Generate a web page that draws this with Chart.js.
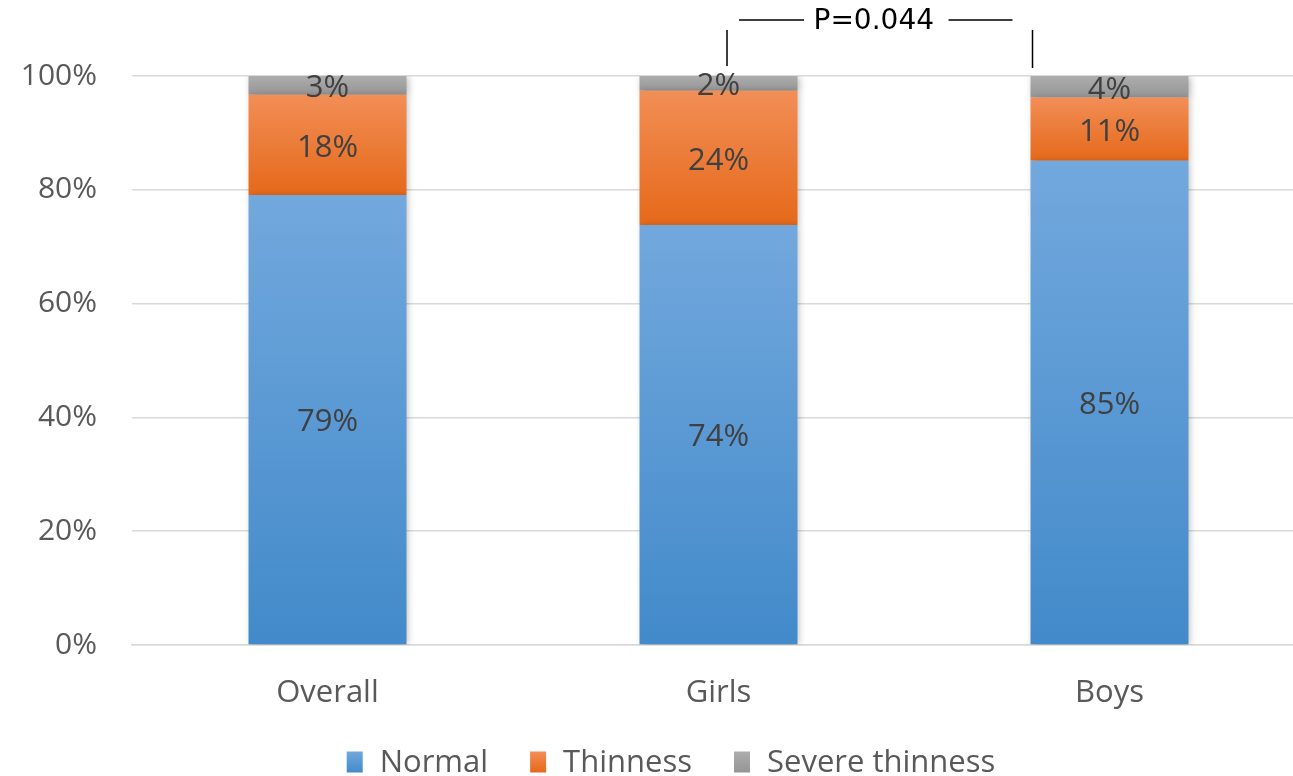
<!DOCTYPE html>
<html>
<head>
<meta charset="utf-8">
<script src="https://cdn.jsdelivr.net/npm/chart.js@4.4.1/dist/chart.umd.min.js"></script>
<style>
html,body{margin:0;padding:0;background:#fff;overflow:hidden;width:1293px;height:776px;}
#wrap{width:1310px;height:776px;}
</style>
</head>
<body>
<div id="wrap"><canvas id="c" width="1310" height="776"></canvas></div>
<script>
const categories = ['Overall', 'Girls', 'Boys'];
const normalValues = [79.1, 73.8, 85.1];
const thinnessValues = [17.6, 23.6, 11.1];
const severeValues = [3.3, 2.6, 3.8];
const normalLabels = ['79%', '74%', '85%'];
const thinnessLabels = ['18%', '24%', '11%'];
const severeLabels = ['3%', '2%', '4%'];
const seriesNames = ['Normal', 'Thinness', 'Severe thinness'];
const yTicks = [0, 20, 40, 60, 80, 100];
const pValueText = 'P=0.044';

const FONT = '"Open Sans", "Noto Sans", sans-serif';
const gradStops = [
  ['rgb(114,168,221)', 'rgb(66,138,202)'],
  ['rgb(242,142,86)', 'rgb(229,105,26)'],
  ['rgb(173,173,173)', 'rgb(149,149,149)']
];
const flatColors = ['rgb(91,155,213)', 'rgb(237,125,49)', 'rgb(165,165,165)'];
const allSeries = [normalValues, thinnessValues, severeValues];
const allLabels = [normalLabels, thinnessLabels, severeLabels];

function segGradient(ctx) {
  const chart = ctx.chart;
  const ds = ctx.datasetIndex, i = ctx.dataIndex;
  const y = chart.scales && chart.scales.y;
  if (!y || !chart.chartArea || i === undefined) return flatColors[ds];
  let base = 0;
  for (let k = 0; k < ds; k++) base += allSeries[k][i];
  const top = base + allSeries[ds][i];
  const y0 = y.getPixelForValue(top), y1 = y.getPixelForValue(base);
  if (!isFinite(y0) || !isFinite(y1) || y0 === y1) return flatColors[ds];
  const g = chart.ctx.createLinearGradient(0, y0, 0, y1);
  g.addColorStop(0, gradStops[ds][0]);
  g.addColorStop(1, gradStops[ds][1]);
  return g;
}

const shadowPlugin = {
  id: 'shadow',
  beforeDatasetsDraw(chart) {
    const c = chart.ctx;
    c.save();
    c.shadowColor = 'rgba(0,0,0,0.28)';
    c.shadowBlur = 7;
    c.shadowOffsetX = 2;
    c.shadowOffsetY = 1;
  },
  afterDatasetsDraw(chart) {
    chart.ctx.restore();
  }
};

const labelPlugin = {
  id: 'segLabels',
  afterDatasetsDraw(chart) {
    const c = chart.ctx;
    c.save();
    c.font = '31px ' + FONT;
    c.fillStyle = '#404040';
    c.textAlign = 'center';
    c.textBaseline = 'middle';
    chart.data.datasets.forEach((ds, di) => {
      const meta = chart.getDatasetMeta(di);
      meta.data.forEach((el, i) => {
        const yc = (el.y + el.base) / 2;
        c.fillText(allLabels[di][i], el.x, yc + 3);
      });
    });
    c.restore();
  }
};

const annotPlugin = {
  id: 'annot',
  afterDraw(chart) {
    const c = chart.ctx;
    const meta = chart.getDatasetMeta(0);
    const g = meta.data[1], b = meta.data[2];
    const leftX = g.x + 8.5;
    const rightX = b.x - b.width / 2 + 2;
    const top = chart.chartArea.top;
    c.save();
    c.strokeStyle = '#000';
    c.lineWidth = 1.5;
    c.beginPath();
    c.moveTo(leftX, top - 46); c.lineTo(leftX, top - 10);
    c.moveTo(rightX, top - 46); c.lineTo(rightX, top - 8);
    c.moveTo(leftX + 12, top - 56); c.lineTo(leftX + 77, top - 56);
    c.moveTo(rightX - 84, top - 56); c.lineTo(rightX - 20, top - 56);
    c.stroke();
    c.font = '28px "DejaVu Sans", sans-serif';
    c.fillStyle = '#000';
    c.textAlign = 'center';
    c.textBaseline = 'middle';
    c.fillText(pValueText, (leftX + rightX) / 2 - 6, top - 54);
    c.restore();
  }
};

const legendPlugin = {
  id: 'customLegend',
  afterDraw(chart) {
    const c = chart.ctx;
    c.save();
    c.font = '31px ' + FONT;
    c.textBaseline = 'middle';
    const bw = 16, bh = 21, gapText = 17, gapItem = 42;
    const widths = seriesNames.map(n => c.measureText(n).width);
    let total = 0;
    widths.forEach((w, k) => { total += bw + gapText + w + (k < widths.length - 1 ? gapItem : 0); });
    let x = 671 - total / 2;
    const yc = 762;
    seriesNames.forEach((n, k) => {
      const g = c.createLinearGradient(0, yc - bh / 2, 0, yc + bh / 2);
      g.addColorStop(0, gradStops[k][0]);
      g.addColorStop(1, gradStops[k][1]);
      c.fillStyle = g;
      c.fillRect(x, yc - bh / 2, bw, bh);
      x += bw + gapText;
      c.fillStyle = '#595959';
      c.fillText(n, x, yc + 1);
      x += widths[k] + gapItem;
    });
    c.restore();
  }
};

new Chart(document.getElementById('c'), {
  type: 'bar',
  data: {
    labels: categories,
    datasets: seriesNames.map((n, k) => ({
      label: n,
      data: allSeries[k],
      backgroundColor: segGradient,
      borderWidth: 0,
      barPercentage: 1,
      categoryPercentage: 0.404
    }))
  },
  options: {
    responsive: false,
    animation: false,
    layout: { padding: { top: 76, left: 0, right: 5, bottom: 0 } },
    plugins: { legend: { display: false }, tooltip: { enabled: false } },
    scales: {
      x: {
        stacked: true,
        grid: { display: false, drawTicks: false },
        border: { display: true, color: '#d9d9d9', width: 1.5 },
        ticks: { color: '#595959', font: { family: FONT, size: 31 }, padding: 30 },
        afterFit(s) { s.height = 131; }
      },
      y: {
        stacked: true,
        min: 0, max: 100,
        afterBuildTicks(s) { s.ticks = yTicks.map(v => ({ value: v })); },
        grid: { color: '#d9d9d9', lineWidth: 1.5, drawTicks: false },
        border: { display: false },
        ticks: { color: '#595959', font: { family: FONT, size: 30 }, padding: 35, callback: v => v + '%' },
        afterFit(s) { s.width = 132; }
      }
    }
  },
  plugins: [shadowPlugin, labelPlugin, annotPlugin, legendPlugin]
});
</script>
</body>
</html>
